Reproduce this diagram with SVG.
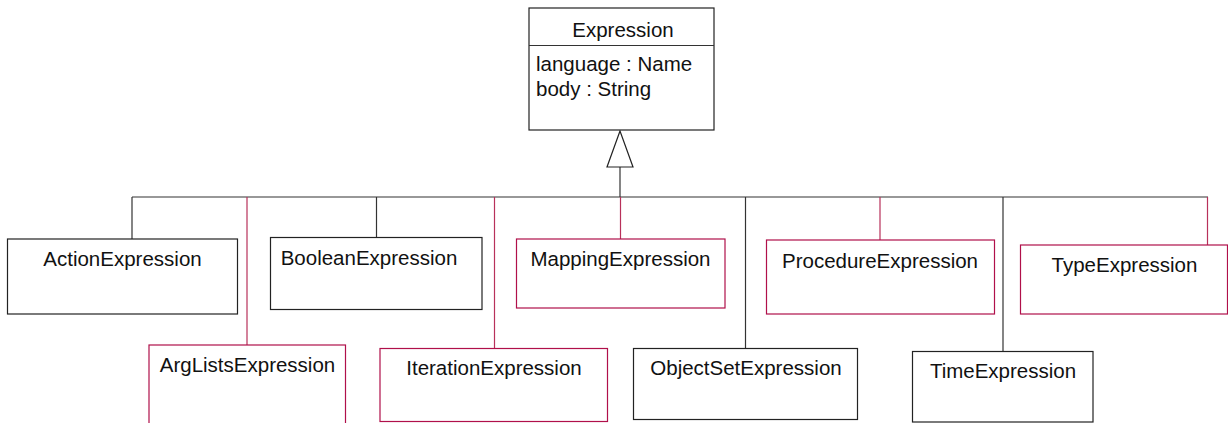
<svg xmlns="http://www.w3.org/2000/svg" width="1228" height="423" viewBox="0 0 1228 423">
<defs>
<style>
.box{fill:#fff;stroke:#222;stroke-width:1.2}
.pbox{fill:#fff;stroke:#b0104a;stroke-width:1.2}
.ln{fill:none;stroke:#333;stroke-width:1.2}
.pln{fill:none;stroke:#b8305a;stroke-width:1.2}
text{font-family:"Liberation Sans",Arial,sans-serif;font-size:20.5px;fill:#111}
.c{text-anchor:middle}
</style>
</defs>
<rect width="1228" height="423" fill="#fff"/>
<g id="connectors">
<line class="ln" x1="132" y1="197" x2="1208" y2="197"/>
<line class="ln" x1="620" y1="167" x2="620" y2="197"/>
<polygon points="620,131 607,167 633,167" fill="#fff" stroke="#222" stroke-width="1.2"/>
<line class="ln" x1="132" y1="197" x2="132" y2="239"/>
<line class="pln" x1="247" y1="197" x2="247" y2="345"/>
<line class="ln" x1="376.5" y1="197" x2="376.5" y2="237"/>
<line class="pln" x1="494.5" y1="197" x2="494.5" y2="348"/>
<line class="pln" x1="620.5" y1="197" x2="620.5" y2="239"/>
<line class="ln" x1="745.5" y1="197" x2="745.5" y2="348"/>
<line class="pln" x1="880" y1="197" x2="880" y2="240"/>
<line class="ln" x1="1003" y1="197" x2="1003" y2="351"/>
<line class="pln" x1="1207.5" y1="197" x2="1207.5" y2="245"/>
</g>
<g id="Expression">
<rect class="box" x="529" y="8" width="185" height="122"/>
<line class="ln" x1="529" y1="45.5" x2="714" y2="45.5"/>
<text class="c" x="623" y="37">Expression</text>
<text x="536" y="70.5">language : Name</text>
<text x="536" y="96">body : String</text>
</g>
<g id="ActionExpression">
<rect class="box" x="7.5" y="239" width="230" height="75"/>
<text class="c" x="122.5" y="266">ActionExpression</text>
</g>
<g id="ArgListsExpression">
<rect class="pbox" x="149" y="345" width="196.5" height="90"/>
<text class="c" x="247.5" y="372">ArgListsExpression</text>
</g>
<g id="BooleanExpression">
<rect class="box" x="270.5" y="237.5" width="211.5" height="72"/>
<text class="c" x="369" y="265">BooleanExpression</text>
</g>
<g id="IterationExpression">
<rect class="pbox" x="380" y="348.5" width="227.5" height="73"/>
<text class="c" x="494" y="375">IterationExpression</text>
</g>
<g id="MappingExpression">
<rect class="pbox" x="516.5" y="239" width="208.5" height="69"/>
<text class="c" x="620.5" y="266">MappingExpression</text>
</g>
<g id="ObjectSetExpression">
<rect class="box" x="633.5" y="348.5" width="224" height="71"/>
<text class="c" x="746" y="374.5">ObjectSetExpression</text>
</g>
<g id="ProcedureExpression">
<rect class="pbox" x="766.5" y="240" width="228" height="74"/>
<text class="c" x="880" y="267.5">ProcedureExpression</text>
</g>
<g id="TimeExpression">
<rect class="box" x="912.5" y="351.5" width="180.5" height="70.5"/>
<text class="c" x="1003" y="378">TimeExpression</text>
</g>
<g id="TypeExpression">
<rect class="pbox" x="1020.5" y="245" width="207" height="69"/>
<text class="c" x="1124.5" y="272">TypeExpression</text>
</g>
</svg>
